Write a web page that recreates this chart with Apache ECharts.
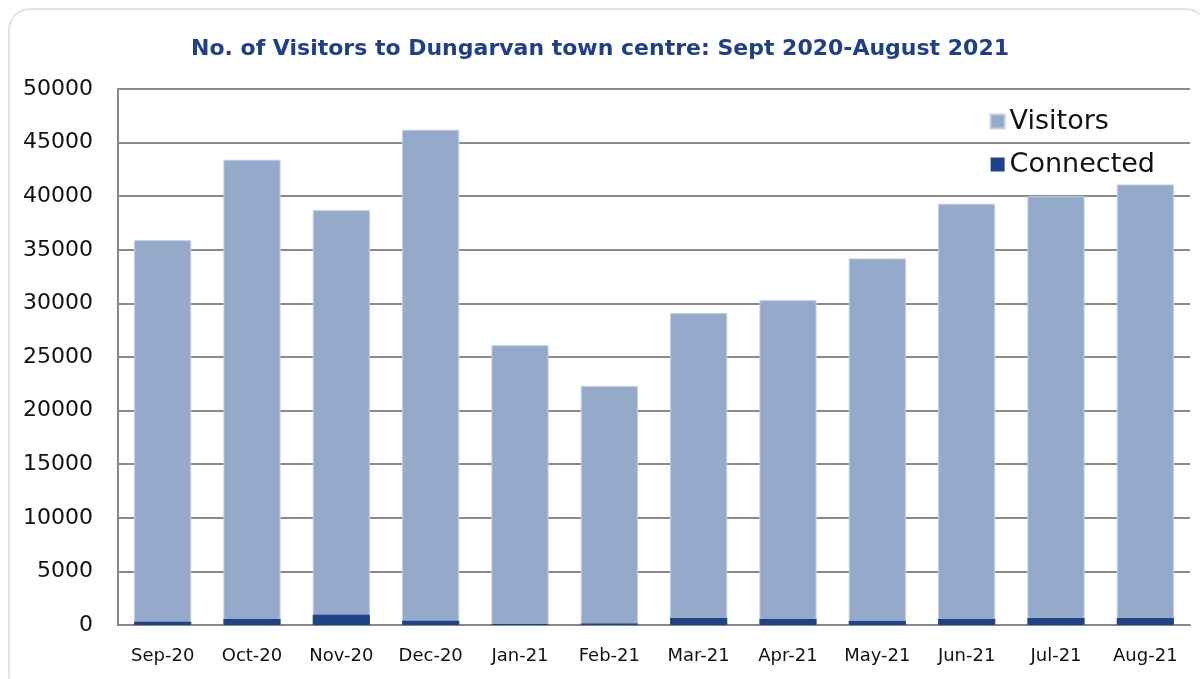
<!DOCTYPE html>
<html>
<head>
<meta charset="utf-8">
<script src="https://cdn.jsdelivr.net/npm/echarts@6/dist/echarts.min.js"></script>
<style>
  html, body { margin: 0; padding: 0; background: #fff; }
  #frame { position: absolute; left: 8px; top: 8px; width: 1200px; height: 690px; border: 2px solid #dde5ee; border-radius: 22px; box-sizing: border-box; }
  #chart { position: absolute; left: 0; top: 0; width: 1200px; height: 679px; }
</style>
</head>
<body>
<div id="frame"></div>
<div id="chart"></div>
<script>
  // months on the x axis
  var months = ['Sep-20', 'Oct-20', 'Nov-20', 'Dec-20', 'Jan-21', 'Feb-21', 'Mar-21', 'Apr-21', 'May-21', 'Jun-21', 'Jul-21', 'Aug-21'];
  // total visitors (bar height)
  var visitors = [35900, 43400, 38700, 46200, 26100, 22300, 29100, 30300, 34200, 39300, 40000, 41100];
  // connected visitors (dark part at the bottom)
  var connected = [300, 550, 950, 400, 100, 150, 650, 550, 380, 550, 650, 650];

  var chart = echarts.init(document.getElementById('chart'));
  chart.setOption({
    animation: false,
    title: {
      text: 'No. of Visitors to Dungarvan town centre: Sept 2020-August 2021',
      left: 'center',
      top: 33,
      textStyle: { color: '#1f3f8c', fontSize: 22, fontWeight: 'bold', fontFamily: 'DejaVu Sans' }
    },
    legend: {
      orient: 'vertical',
      right: 40,
      top: 103,
      itemWidth: 14,
      itemHeight: 14,
      itemGap: 16,
      icon: 'rect',
      textStyle: { fontSize: 27, color: '#111', fontFamily: 'DejaVu Sans' },
      data: ['Visitors', 'Connected']
    },
    grid: { left: 118, right: 10, top: 89, bottom: 54 },
    xAxis: {
      type: 'category',
      data: months,
      axisLine: { lineStyle: { color: '#888', width: 2 } },
      axisTick: { show: false },
      axisLabel: { color: '#111', fontSize: 18, margin: 22, interval: 0, fontFamily: 'DejaVu Sans' }
    },
    yAxis: {
      type: 'value',
      min: 0,
      max: 50000,
      interval: 5000,
      axisLine: { show: true, lineStyle: { color: '#888', width: 2 } },
      axisTick: { show: false },
      splitLine: { lineStyle: { color: '#8a8a8a', width: 2 } },
      axisLabel: {
        color: '#111', fontSize: 22, margin: 25, fontFamily: 'DejaVu Sans',
        formatter: function (v) { return String(v); }
      }
    },
    series: [
      {
        name: 'Visitors',
        type: 'bar',
        data: visitors,
        barWidth: '64%',
        itemStyle: { color: '#95a9cb', borderColor: '#c2cfe4', borderWidth: 1 }
      },
      {
        name: 'Connected',
        type: 'bar',
        data: connected,
        barWidth: '64%',
        barGap: '-100%',
        itemStyle: { color: '#1f4388' }
      }
    ]
  });
</script>
</body>
</html>
